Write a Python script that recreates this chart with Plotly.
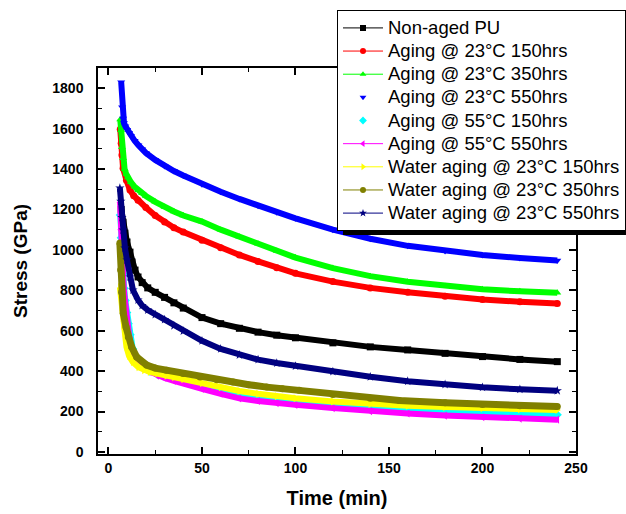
import plotly.graph_objects as go

# ---------------- data ----------------
names = ["Non-aged PU", "Aging @ 23°C 150hrs", "Aging @ 23°C 350hrs", "Aging @ 23°C 550hrs",
         "Aging @ 55°C 150hrs", "Aging @ 55°C 550hrs", "Water aging @ 23°C 150hrs",
         "Water aging @ 23°C 350hrs", "Water aging @ 23°C 550hrs"]

t_k = [6.8, 7.8, 8.8, 9.9, 11.5, 12.6, 14.2, 15.8, 18, 21, 25, 30, 35, 40, 50, 60, 70, 80, 90, 100, 120, 140, 160, 180, 200, 220, 240]
v_k = [1200, 1137, 1083, 1039, 989, 940, 900, 866, 838, 812, 790, 765, 738, 712, 665, 635, 612, 593, 578, 565, 540, 520, 505, 488, 472, 458, 447]

t_r = [6.3, 6.8, 7.2, 7.8, 9.6, 11.5, 13.5, 15.8, 20, 25, 30, 35, 40, 50, 60, 70, 80, 90, 100, 120, 140, 160, 180, 200, 220, 240]
v_r = [1597, 1528, 1469, 1404, 1345, 1296, 1268, 1246, 1210, 1170, 1138, 1110, 1088, 1048, 1010, 975, 943, 912, 884, 843, 812, 790, 770, 755, 743, 735]

t_g = [6.3, 6.7, 7.2, 7.8, 8.6, 9.5, 10.4, 12, 14, 16, 18, 20, 25, 30, 35, 40, 50, 60, 70, 80, 90, 100, 120, 140, 160, 180, 200, 220, 240]
v_g = [1645, 1592, 1508, 1454, 1400, 1375, 1358, 1335, 1312, 1295, 1280, 1267, 1238, 1212, 1190, 1170, 1140, 1100, 1065, 1030, 995, 962, 910, 870, 842, 820, 805, 795, 788]

t_b = [6.8, 7.3, 7.8, 8.3, 9, 10, 11, 12, 14, 16, 18, 20, 25, 30, 35, 40, 50, 60, 70, 80, 90, 100, 120, 140, 160, 180, 200, 220, 240]
v_b = [1830, 1706, 1650, 1628, 1612, 1595, 1580, 1565, 1540, 1518, 1498, 1480, 1445, 1415, 1390, 1368, 1325, 1288, 1252, 1218, 1186, 1156, 1100, 1055, 1020, 995, 975, 960, 948]

t_c = [6.3, 6.8, 7.3, 7.8, 8.4, 9.0, 9.8, 10.6, 11.6, 13, 15, 18, 22, 26, 30, 35, 40, 50, 60, 70, 80, 90, 100, 120, 140, 160, 180, 200, 220, 240]
v_c = [1172, 1060, 960, 880, 810, 750, 690, 635, 580, 510, 460, 425, 400, 385, 372, 360, 350, 325, 302, 283, 268, 256, 247, 233, 218, 205, 197, 191, 187, 184]

t_m = [6.2, 6.6, 7.0, 7.5, 8.0, 8.6, 9.3, 10, 11, 12.8, 15, 18, 22, 26, 30, 35, 40, 50, 60, 70, 80, 90, 100, 120, 140, 160, 180, 200, 220, 240]
v_m = [1236, 1100, 999, 900, 836, 767, 702, 640, 580, 480, 440, 415, 396, 378, 366, 352, 341, 312, 288, 265, 252, 241, 233, 217, 202, 190, 180, 172, 165, 160]

t_y = [6.1, 6.6, 7.0, 7.5, 8.0, 8.6, 9.6, 11, 13, 16, 19, 22, 26, 31, 35, 40, 50, 60, 70, 80, 90, 100, 120, 140, 160, 180, 200, 220, 240]
v_y = [816, 767, 715, 663, 625, 588, 520, 475, 445, 420, 405, 396, 388, 378, 370, 360, 340, 320, 302, 288, 276, 266, 250, 238, 229, 222, 216, 212, 208]

t_o = [6.1, 6.5, 7.0, 7.9, 9.4, 10.6, 12.4, 15.1, 20.4, 25, 31, 40, 49, 58, 66.6, 75, 84.7, 93, 102, 120, 140, 155.6, 180, 200, 220, 240]
v_o = [1034, 900, 790, 687, 618, 569, 519, 470, 430, 415, 405, 388, 371, 358, 346, 333, 321, 313, 305, 285, 266, 255, 243, 235, 229, 225]

t_n = [6.1, 6.6, 7.2, 7.8, 8.8, 9.9, 11.5, 13.1, 15.8, 18, 21, 25, 30, 35, 40, 50, 60, 70, 80, 90, 100, 120, 140, 160, 180, 200, 220, 240]
v_n = [1306, 1240, 1160, 1098, 1009, 950, 866, 801, 752, 725, 702, 680, 655, 625, 598, 550, 510, 480, 457, 440, 425, 398, 372, 350, 334, 320, 310, 303]

series_t = [t_k, t_r, t_g, t_b, t_c, t_m, t_y, t_o, t_n]
series_v = [v_k, v_r, v_g, v_b, v_c, v_m, v_y, v_o, v_n]

colors = ["#000000", "#FF0000", "#00FF00", "#0000FF", "#00FFFF", "#FF00FF", "#FFFF00", "#808000", "#000080"]
symbols = ["square", "circle", "triangle-up", "triangle-down", "diamond", "triangle-left",
           "triangle-right", "circle", "star"]
legend_modes = ["lines+markers", "lines+markers", "lines+markers", "markers", "markers",
                "lines+markers", "lines+markers", "lines+markers", "lines+markers"]
band_width = [6, 6, 6, 6, 6, 6, 6, 7, 6]

x_ticks = [0, 50, 100, 150, 200, 250]
y_ticks = [0, 200, 400, 600, 800, 1000, 1200, 1400, 1600, 1800]

# ---------------- figure ----------------
fig = go.Figure()
for t, v, c, s, w in zip(series_t, series_v, colors, symbols, band_width):
    fig.add_trace(go.Scatter(x=t, y=v, mode="lines+markers", showlegend=False,
                             line=dict(color=c, width=w),
                             marker=dict(color=c, symbol=s, size=7, line=dict(width=0))))
# legend entries
for n, c, s, m in zip(names, colors, symbols, legend_modes):
    fig.add_trace(go.Scatter(x=[None], y=[None],
                             name='<span style="font-size:18.5px">' + n + '</span>', mode=m,
                             line=dict(color=c, width=1),
                             marker=dict(color=c, symbol=s, size=6, line=dict(width=0))))

font_fam = "Arial, Liberation Sans, Helvetica, sans-serif"
axis_common = dict(showline=True, linecolor="black", linewidth=1.5, mirror="ticks",
                   ticks="inside", ticklen=7, tickwidth=1.5, tickcolor="black",
                   showgrid=False, zeroline=False,
                   tickfont=dict(family=font_fam, size=14, color="black", weight="bold"))

fig.update_layout(
    width=626, height=514,
    margin=dict(l=98, r=50, t=68, b=60, autoexpand=False),
    paper_bgcolor="white", plot_bgcolor="white",
    xaxis=dict(range=[-5.6, 250], tickvals=x_ticks,
               minor=dict(dtick=25, tick0=0, ticks="inside", ticklen=4, tickcolor="black", tickwidth=1.2),
               title=dict(text="Time (min)", standoff=16,
                          font=dict(family=font_fam, size=20, color="black", weight="bold")),
               **axis_common),
    yaxis=dict(range=[-10, 1900], tickvals=y_ticks, ticklabelstandoff=10,
               minor=dict(dtick=100, tick0=0, ticks="inside", ticklen=4, tickcolor="black", tickwidth=1.2),
               title=dict(text="Stress (GPa)", standoff=20,
                          font=dict(family=font_fam, size=19, color="black", weight="bold")),
               **axis_common),
    legend=dict(x=0.5, y=1.1494, xanchor="left", yanchor="top",
                bgcolor="white", bordercolor="black", borderwidth=1,
                font=dict(family=font_fam, size=15.5, color="black"),
                itemwidth=40, tracegroupgap=0),
    shapes=[dict(type="rect", xref="paper", yref="paper",
                 x0=(343 - 98) / 478, x1=1.2, y0=(454 - 235) / 386, y1=(454 - 222) / 386,
                 fillcolor="black", line=dict(width=0), layer="above")],
)

fig.write_html("out.html")
